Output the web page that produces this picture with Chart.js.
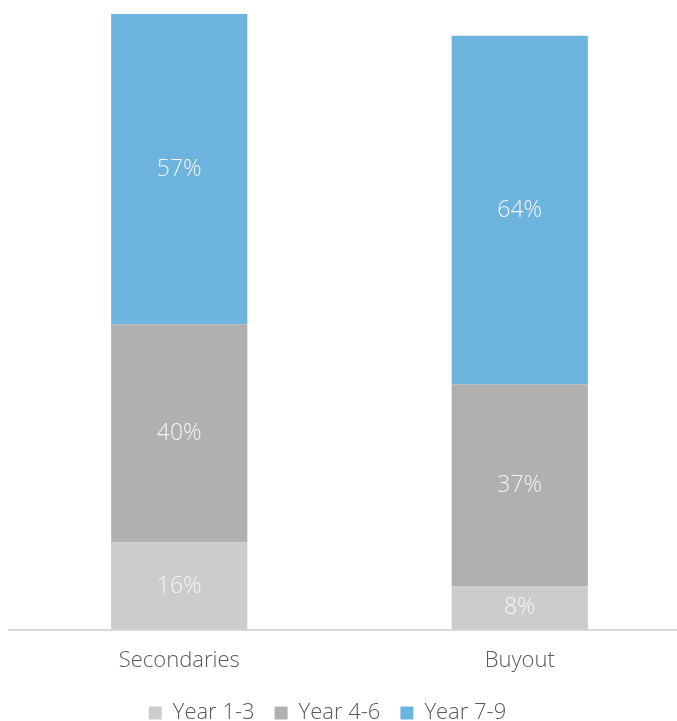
<!DOCTYPE html>
<html>
<head>
<meta charset="utf-8">
<script src="https://cdn.jsdelivr.net/npm/chart.js@4.4.1/dist/chart.umd.min.js"></script>
<style>
  html, body { margin: 0; padding: 0; background: #fff; overflow: hidden; }
  #wrap { width: 677px; height: 721px; overflow: hidden; }
  #box { width: 690px; height: 734px; position: relative; }
</style>
</head>
<body>
<div id="wrap"><div id="box"><canvas id="chart"></canvas></div></div>
<script>
/* Share of value by holding period */
const categories = ['Secondaries', 'Buyout'];
const year13 = [16, 8];
const year46 = [40, 37];
const year79 = [57, 64];

const FONT = '"Open Sans", "Noto Sans", sans-serif';
Chart.defaults.font.family = FONT;
Chart.defaults.font.weight = 300;
Chart.defaults.color = '#595959';

/* White value labels centred in each segment */
const segmentLabels = {
    id: 'segmentLabels',
    afterDatasetsDraw(chart) {
        const ctx = chart.ctx;
        ctx.save();
        ctx.font = '300 23px ' + FONT;
        ctx.fillStyle = '#f4f4f4';
        ctx.textAlign = 'center';
        ctx.textBaseline = 'middle';
        chart.data.datasets.forEach((ds, i) => {
            chart.getDatasetMeta(i).data.forEach((bar, j) => {
                const y = (bar.y + bar.base) / 2;
                ctx.fillText(ds.data[j] + '%', bar.x, y);
            });
        });
        ctx.restore();
    }
};

/* Legend is laid out with tight padding, then drawn with wider gaps
   between items; the canvas is wider than the page so pull it left too */
const legendTune = {
    id: 'legendTune',
    beforeDraw(chart) {
        const lg = chart.legend;
        if (lg._tuned) return;
        lg.options.labels.padding = 20;
        lg.top -= 10;
        lg.left -= 37;
        lg.right -= 37;
        lg._tuned = true;
    },
    afterUpdate(chart) {
        chart.legend._tuned = false;
    }
};

new Chart(document.getElementById('chart'), {
    type: 'bar',
    data: {
        labels: categories,
        datasets: [
            { label: 'Year 1-3', data: year13, backgroundColor: '#cccccc' },
            { label: 'Year 4-6', data: year46, backgroundColor: '#b0b0b0' },
            { label: 'Year 7-9', data: year79, backgroundColor: '#6cb4de' },
        ],
    },
    options: {
        responsive: true,
        maintainAspectRatio: false,
        animation: false,
        barPercentage: 0.4,
        categoryPercentage: 1,
        layout: { padding: { top: 14, left: 9, right: 0, bottom: 0 } },
        plugins: {
            legend: {
                position: 'bottom',
                labels: {
                    boxWidth: 13,
                    boxHeight: 13,
                    padding: 10,
                    font: { size: 22, weight: 300 },
                    color: '#595959',
                },
            },
            tooltip: { enabled: false },
        },
        scales: {
            x: {
                stacked: true,
                grid: { display: false, drawTicks: false },
                border: { color: '#d9d9d9', width: 2 },
                ticks: { padding: 18, font: { size: 22, weight: 300 }, color: '#595959' },
            },
            y: {
                stacked: true,
                display: false,
                min: 0,
                max: 113,
            },
        },
    },
    plugins: [segmentLabels, legendTune],
});
</script>
</body>
</html>
